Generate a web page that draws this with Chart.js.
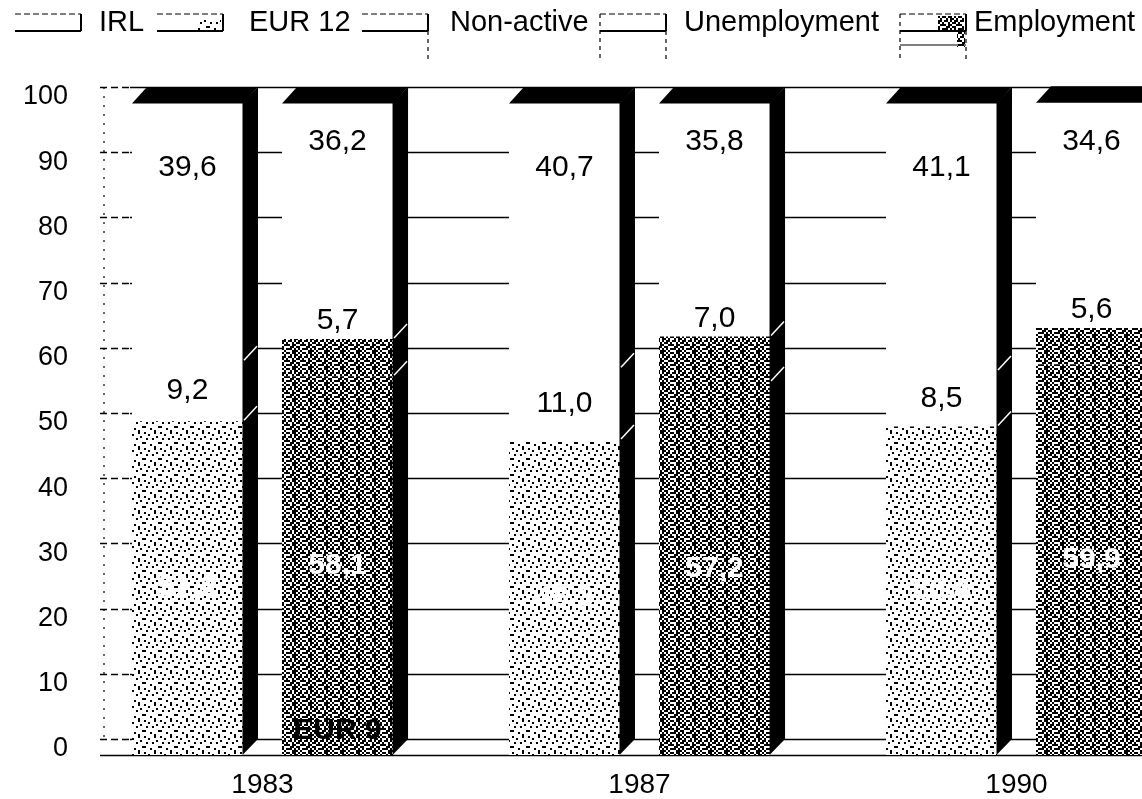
<!DOCTYPE html>
<html>
<head>
<meta charset="utf-8">
<script src="https://cdn.jsdelivr.net/npm/chart.js@4.4.1/dist/chart.umd.min.js"></script>
<style>
  html, body { margin: 0; padding: 0; background: #fff; overflow: hidden; }
  #wrap { width: 1215px; height: 799px; }
</style>
</head>
<body>
<div id="wrap"><canvas id="c" width="1215" height="799"></canvas></div>
<script>
// Population aged 15-64 by activity status, IRL vs EUR 12 (% of total)
const years = ['1983', '1987', '1990'];
const irlEmployment   = [51.2, 48.3, 50.4];
const irlUnemployment = [9.2, 11.0, 8.5];
const irlNonActive    = [39.6, 40.7, 41.1];
const eurEmployment   = [58.1, 57.2, 59.9];
const eurUnemployment = [5.7, 7.0, 5.6];
const eurNonActive    = [36.2, 35.8, 34.6];
const yTicks = [0, 10, 20, 30, 40, 50, 60, 70, 80, 90, 100];
const legendNames = ['IRL', 'EUR 12', 'Non-active', 'Unemployment', 'Employment'];
const baseNote = 'EUR 9';   // 1983 European figure covers EUR 9

const FONT = "'Liberation Sans', Arial, Helvetica, sans-serif";
const DX = 15, DY = 16;     // depth of the pseudo-3D bars

const canvas = document.getElementById('c');
const ctx0 = canvas.getContext('2d');

// grain tiles, 2px blocks
function makePattern(rows) {
  const s = 2, t = document.createElement('canvas');
  t.width = rows[0].length * s; t.height = rows.length * s;
  const g = t.getContext('2d');
  g.fillStyle = '#fff'; g.fillRect(0, 0, t.width, t.height);
  g.fillStyle = '#000';
  rows.forEach((r, y) => [...r].forEach((ch, x) => { if (ch === '1') g.fillRect(x * s, y * s, s, s); }));
  return ctx0.createPattern(t, 'repeat');
}
const patLight = makePattern([
  '10000100', '00100000', '00000010', '01001000',
  '00000000', '10000001', '00010000', '00000100'
]);
const patDense = makePattern([
  '10110101', '01011010', '11010110', '00101101',
  '10110011', '01101100', '11010101', '00111010'
]);

const fmt = v => v.toFixed(1).replace('.', ',');

function bar(label, data, stack, fill, kind) {
  return { label, data, stack, kind, backgroundColor: fill, borderWidth: 0,
           categoryPercentage: 0.796, barPercentage: 0.74 };
}

const datasets = [
  bar('IRL Employment',      irlEmployment,   'IRL', patLight, 'emp'),
  bar('IRL Unemployment',    irlUnemployment, 'IRL', '#ffffff', 'unemp'),
  bar('IRL Non-active',      irlNonActive,    'IRL', '#ffffff', 'non'),
  bar('EUR 12 Employment',   eurEmployment,   'EUR', patDense, 'emp'),
  bar('EUR 12 Unemployment', eurUnemployment, 'EUR', patDense, 'unemp'),
  bar('EUR 12 Non-active',   eurNonActive,    'EUR', '#ffffff', 'non')
];

function line(ctx, x1, y1, x2, y2) { ctx.beginPath(); ctx.moveTo(x1, y1); ctx.lineTo(x2, y2); ctx.stroke(); }

// back wall grid and floor
const backGrid = {
  id: 'backGrid',
  beforeDatasetsDraw(chart) {
    const ctx = chart.ctx, ys = chart.scales.y, a = chart.chartArea;
    ctx.save();
    ctx.strokeStyle = '#000';
    ctx.lineWidth = 1.3;
    yTicks.forEach(v => {
      const py = Math.round(ys.getPixelForValue(v) - DY) + 0.5;
      ctx.setLineDash([7, 4]);
      line(ctx, a.left + 26, py, a.left + 56, py);
      ctx.setLineDash([]);
      line(ctx, a.left + 56, py, a.right + DX, py);
    });
    const p0 = Math.round(ys.getPixelForValue(0)) + 0.5;
    ctx.lineWidth = 1.6;
    line(ctx, a.left + 26, p0, a.right, p0);
    ctx.setLineDash([2, 7]);
    ctx.lineWidth = 1.2;
    line(ctx, a.left + 30, ys.getPixelForValue(100) - DY, a.left + 30, ys.getPixelForValue(0) - DY);
    ctx.restore();
  }
};

// top and side faces of every bar, plus segment marks on the side
const solidFaces = {
  id: 'solidFaces',
  afterDatasetsDraw(chart) {
    const ctx = chart.ctx, ys = chart.scales.y;
    const stacks = {};
    chart.data.datasets.forEach((d, i) => {
      (stacks[d.stack] = stacks[d.stack] || []).push(chart.getDatasetMeta(i));
    });
    ctx.save();
    Object.values(stacks).forEach(metas => {
      const topMeta = metas[metas.length - 1];
      topMeta.data.forEach((el, j) => {
        const p = el.getProps(['x', 'y', 'width'], true);
        const L = p.x - p.width / 2, R = p.x + p.width / 2, T = p.y;
        const B = ys.getPixelForValue(0);
        ctx.fillStyle = '#000';
        ctx.beginPath();
        ctx.moveTo(L, T + 0.5); ctx.lineTo(R, T + 0.5); ctx.lineTo(R + DX, T - DY); ctx.lineTo(L + DX, T - DY);
        ctx.closePath(); ctx.fill();
        ctx.beginPath();
        ctx.moveTo(R - 0.5, T); ctx.lineTo(R + DX, T - DY); ctx.lineTo(R + DX, B - DY); ctx.lineTo(R - 0.5, B);
        ctx.closePath(); ctx.fill();
        ctx.strokeStyle = '#fff';
        ctx.lineWidth = 1.5;
        metas.slice(0, -1).forEach(m => {
          const yb = m.data[j].y;
          line(ctx, R + 1, yb - 1, R + DX - 1, yb - DY + 1);
        });
      });
    });
    ctx.restore();
  }
};

// value labels
const valueLabels = {
  id: 'valueLabels',
  afterDatasetsDraw(chart) {
    const ctx = chart.ctx;
    ctx.save();
    ctx.textAlign = 'center';
    ctx.textBaseline = 'middle';
    chart.data.datasets.forEach((d, i) => {
      const meta = chart.getDatasetMeta(i);
      meta.data.forEach((el, j) => {
        const p = el.getProps(['x', 'y', 'base'], true);
        const txt = fmt(d.data[j]);
        let y;
        if (d.kind === 'non') {
          ctx.font = '30px ' + FONT; ctx.fillStyle = '#000';
          y = p.y + (d.stack === 'IRL' ? 65 : 39);
        } else if (d.kind === 'unemp') {
          ctx.font = '30px ' + FONT; ctx.fillStyle = '#000';
          y = d.stack === 'IRL' ? (p.y + p.base) / 2 : p.y - 18;
        } else {
          ctx.font = 'bold 30px ' + FONT; ctx.fillStyle = '#fff';
          y = (p.y + p.base) / 2;
        }
        ctx.fillText(txt, p.x, y);
      });
    });
    // note at the foot of the first European bar
    const first = chart.getDatasetMeta(3).data[0].getProps(['x', 'base'], true);
    ctx.font = 'bold 30px ' + FONT;
    ctx.fillStyle = '#000';
    ctx.fillText(baseNote, first.x, first.base - 24);
    ctx.restore();
  }
};

// key along the top edge
const keyRow = {
  id: 'keyRow',
  afterDraw(chart) {
    const ctx = chart.ctx;
    const boxX = [15, 157, 362, 600, 900];
    const textX = [99, 249, 450, 684, 974];
    const w = 66, t = 14, b = 31, low = 60;
    ctx.save();
    legendNames.forEach((name, i) => {
      const x = boxX[i];
      ctx.strokeStyle = '#000';
      if (i === 1) { ctx.fillStyle = patLight; ctx.fillRect(x + w - 26, t + 6, 24, b - t - 6); }
      if (i === 4) {
        ctx.fillStyle = patDense;
        ctx.fillRect(x + w - 28, t + 2, 26, b - t - 2);
        ctx.fillRect(x + w - 9, b, 8, 16);
      }
      ctx.lineWidth = 1.2; ctx.setLineDash([6, 3]);
      line(ctx, x, t, x + w, t);
      ctx.setLineDash([]);
      ctx.lineWidth = 2;
      line(ctx, x, b, x + w, b);
      line(ctx, x + w, t, x + w, b);
      ctx.lineWidth = 1.2; ctx.setLineDash([4, 4]);
      if (i === 2) line(ctx, x + w, b, x + w, low);
      if (i === 3 || i === 4) { line(ctx, x, t, x, low); line(ctx, x + w, b, x + w, low); }
      if (i === 4) { ctx.setLineDash([]); line(ctx, x, b + 14, x + w, b + 14); }
      ctx.setLineDash([]);
      ctx.fillStyle = '#000';
      ctx.font = '29px ' + FONT;
      ctx.textAlign = 'left';
      ctx.textBaseline = 'middle';
      ctx.fillText(name, textX[i], 23);
    });
    ctx.restore();
  }
};

new Chart(canvas, {
  type: 'bar',
  data: { labels: years, datasets },
  options: {
    responsive: false,
    animation: false,
    layout: { padding: { top: 103, right: 10, left: 0, bottom: 0 } },
    plugins: { legend: { display: false }, tooltip: { enabled: false } },
    scales: {
      x: {
        stacked: true,
        grid: { display: false, drawTicks: false },
        border: { display: false },
        ticks: { color: '#000', font: { family: FONT, size: 28 }, padding: 13 },
        afterFit: s => { s.height = 44; }
      },
      y: {
        stacked: true,
        min: 0, max: 100,
        afterBuildTicks: s => { s.ticks = yTicks.map(v => ({ value: v })); },
        grid: { display: false, drawTicks: false },
        border: { display: false },
        ticks: { color: '#000', font: { family: FONT, size: 27 }, padding: 6, labelOffset: -6 },
        afterFit: s => { s.width = 74; }
      }
    }
  },
  plugins: [backGrid, solidFaces, valueLabels, keyRow]
});
</script>
</body>
</html>
